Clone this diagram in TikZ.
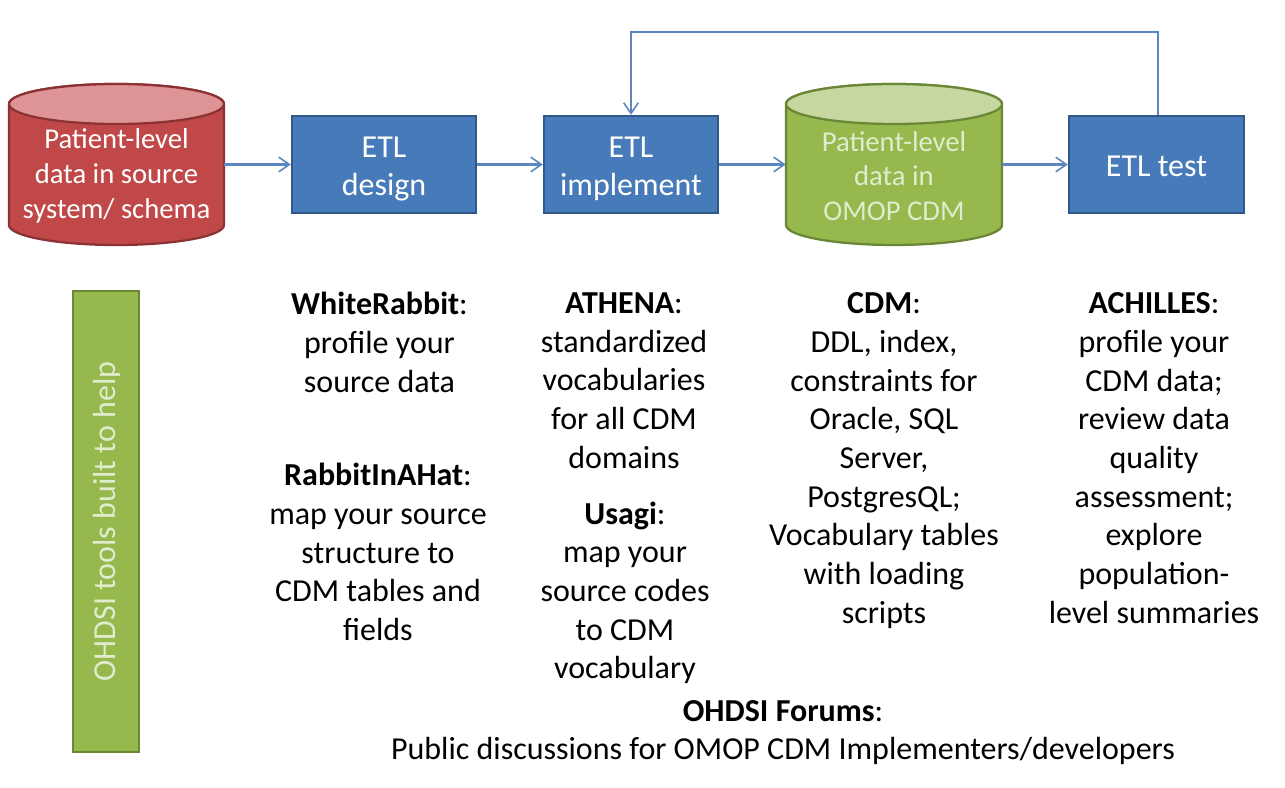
\documentclass[tikz,border=0pt]{standalone}
\usepackage{fontspec}
\setmainfont{Carlito}
\usetikzlibrary{arrows.meta}
\definecolor{bluefill}{RGB}{70,122,184}
\definecolor{blueedge}{RGB}{48,88,138}
\definecolor{linkblue}{RGB}{92,135,190}
\definecolor{redfill}{RGB}{193,72,72}
\definecolor{redtop}{RGB}{222,148,148}
\definecolor{rededge}{RGB}{140,50,52}
\definecolor{greenfill}{RGB}{150,184,76}
\definecolor{greentop}{RGB}{198,216,160}
\definecolor{greenedge}{RGB}{105,135,55}
\definecolor{bartext}{RGB}{225,235,205}
\tikzset{
  x=0.75pt,y=-0.75pt,
  stepbox/.style={draw=blueedge,line width=1.8pt,fill=bluefill,text=white,align=center,
    font=\fontsize{24}{28.5}\selectfont,inner sep=0pt},
  cyltext/.style={text=white,align=center,font=\fontsize{21.5}{26}\selectfont,inner sep=0pt},
  tooltext/.style={text=black,align=center,font=\fontsize{24}{29}\selectfont,inner sep=0pt},
  link/.style={draw=linkblue,line width=1.7pt,-{Straight Barb[length=8pt,width=11pt,line width=1.2pt]}},
}
\newcommand{\cyl}[7]{% x1 x2 top-y bottom-y ry fill edge
  \path[fill=#6,draw=#7,line width=1.7pt] (#1,#3) -- (#1,#4)
     arc[start angle=180,end angle=0,x radius={(#2-#1)/2},y radius=#5]
     -- (#2,#3) arc[start angle=0,end angle=-180,x radius={(#2-#1)/2},y radius=#5] -- cycle;
}
\newcommand{\boxlines}[1]{\raisebox{-9.25pt}[0pt][0pt]{\begin{tabular}{@{}c@{}}#1\end{tabular}}}
\begin{document}
\begin{tikzpicture}
\useasboundingbox (0,0) rectangle (1285,788);
\fill[white] (0,0) rectangle (1285,788);

% source cylinder
\cyl{9}{224}{104}{225}{20}{redfill}{rededge}
\path[fill=redtop,draw=rededge,line width=1.7pt] (116.5,104) ellipse [x radius=107.5,y radius=20];
\node[cyltext,minimum width=161.25pt,minimum height=105.75pt] (src) at (116.5,176) {Patient-level\\data in source\\system/ schema};

% cdm cylinder
\cyl{786}{1002}{104}{225}{20}{greenfill}{greenedge}
\path[fill=greentop,draw=greenedge,line width=1.7pt] (894,104) ellipse [x radius=108,y radius=20];
\node[cyltext,text=bartext,minimum width=162pt,minimum height=105.75pt] (cdm) at (894,176) {Patient-level\\data in\\OMOP CDM};

% process boxes
\node[stepbox,minimum width=138pt,minimum height=72.75pt] (design) at (384,164.5) {\boxlines{ETL\\design}};
\node[stepbox,minimum width=130.5pt,minimum height=72.75pt] (impl) at (631,164.5) {\boxlines{ETL\\implement}};
\node[stepbox,minimum width=131.25pt,minimum height=72.75pt] (test) at (1156.5,164.5) {\boxlines{ETL test}};

% connectors
\draw[link] (src.east |- design.west) -- (design.west);
\draw[link] (design.east) -- (impl.west);
\draw[link] (impl.east) -- (cdm.west |- impl.east);
\draw[link] (cdm.east |- test.west) -- (test.west);
\coordinate (loopR) at (1158,32);
\coordinate (loopL) at (631,32);
\draw[link] (test.north -| loopR) -- (loopR) -- (loopL) -- (impl.north);

% side bar
\node[draw=greenedge,line width=1.7pt,fill=greenfill,text=bartext,rotate=90,
  minimum width=345.75pt,minimum height=49.5pt,inner sep=0pt,
  font=\fontsize{24}{26}\selectfont] (bar) at (106,521.5) {\raisebox{-7pt}[0pt][0pt]{OHDSI tools built to help}};

% tool descriptions
\node[tooltext,anchor=north] (t1) at (379.5,292) {\textbf{WhiteRabbit}:\\profile your\\source data};
\node[tooltext,anchor=north] (t2) at (378,463) {\textbf{RabbitInAHat}:\\map your source\\structure to\\CDM tables and\\fields};
\node[tooltext,anchor=north] (t3) at (624,292.5) {\textbf{ATHENA}:\\standardized\\vocabularies\\for all CDM\\domains};
\node[tooltext,anchor=north] (t4) at (625,501.5) {\textbf{Usagi}:\\map your\\source codes\\to CDM\\vocabulary};
\node[tooltext,anchor=north] (t5) at (884,292.5) {\textbf{CDM}:\\DDL, index,\\constraints for\\Oracle, SQL\\Server,\\PostgresQL;\\Vocabulary tables\\with loading\\scripts};
\node[tooltext,anchor=north] (t6) at (1154,292.5) {\textbf{ACHILLES}:\\profile your\\CDM data;\\review data\\quality\\assessment;\\explore\\population-\\level summaries};
\node[tooltext,anchor=north] (t7) at (783,700) {\textbf{OHDSI Forums}:\\Public discussions for OMOP CDM Implementers/developers};
\end{tikzpicture}
\end{document}
